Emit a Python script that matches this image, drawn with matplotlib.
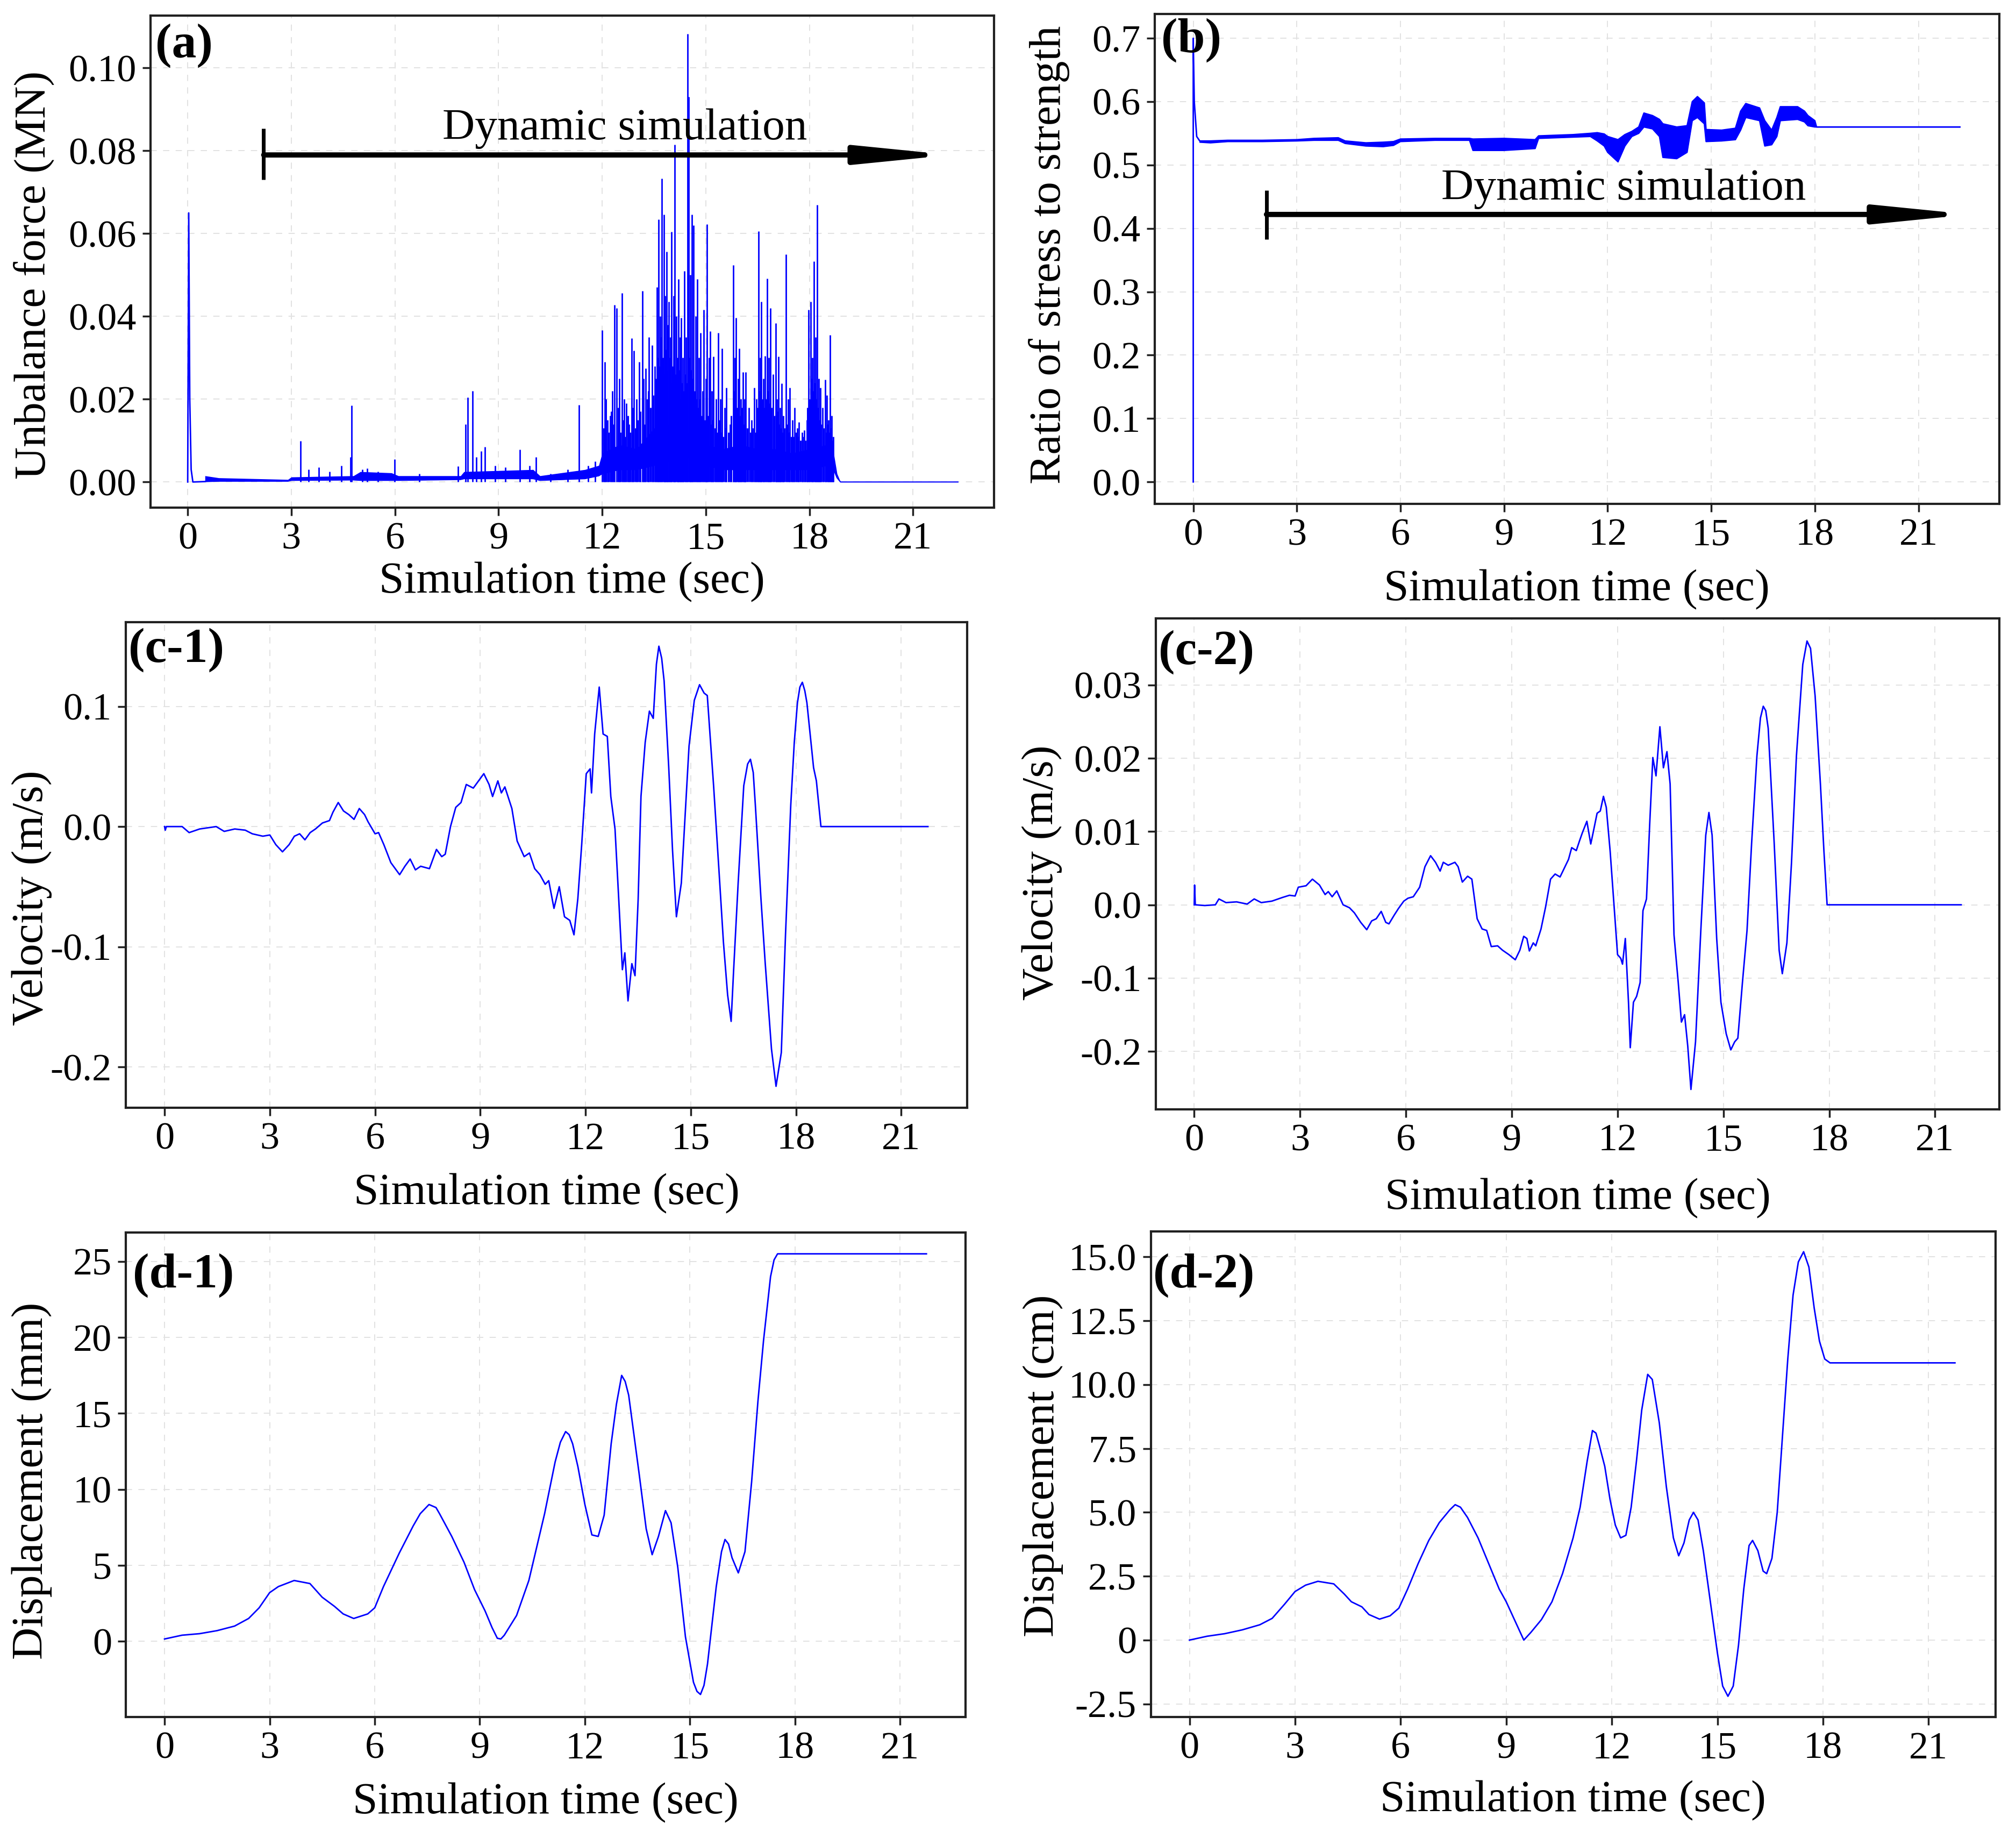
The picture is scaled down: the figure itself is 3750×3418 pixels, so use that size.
import numpy as np
import matplotlib
matplotlib.use('Agg')
import matplotlib.pyplot as plt

plt.rcParams['font.family'] = ['Liberation Serif', 'DejaVu Serif']

# (a) unbalance force (MN): baseline, dense band envelope, spikes
force_t = [0, 0.03, 0.06, 0.1, 0.15, 0.5]
force_v = [0.0, 0.065, 0.02, 0.003, 0.0, 0.0001]
band_t = [0.5, 0.9, 2.9, 3.0, 4.8, 5.0, 5.9, 6.1, 7.9, 8.0, 10.0, 10.2, 11.5,
          11.9, 12.0, 12.5, 13.0, 13.5, 14.0, 14.5, 15.0, 15.5, 16.0, 16.5,
          17.0, 17.5, 18.0, 18.5, 18.7, 18.8, 18.9, 22.3]
band_lo = [0.0001, 0.0002, 0.0002, 0.0004, 0.0005, 0.0004, 0.0004, 0.0004,
           0.0006, 0.0008, 0.0008, 0.0004, 0.0008, 0.0015, 0.002, 0.003, 0.003,
           0.004, 0.005, 0.006, 0.004, 0.003, 0.003, 0.003, 0.003, 0.003, 0.003,
           0.004, 0.003, 0.001, 0.0, 0.0]
band_hi = [0.0015, 0.001, 0.0006, 0.0012, 0.0015, 0.0025, 0.0022, 0.0015,
           0.0015, 0.0025, 0.003, 0.0015, 0.003, 0.004, 0.007, 0.009, 0.008,
           0.013, 0.014, 0.012, 0.009, 0.008, 0.009, 0.008, 0.008, 0.007, 0.008,
           0.009, 0.007, 0.002, 0.0, 0.0]
spike_t = [3.26, 3.5, 3.8, 4.1, 4.45, 4.72, 4.75, 5.05, 5.2, 5.5, 5.99, 6.7,
           7.83, 8.05, 8.1, 8.24, 8.35, 8.49, 8.61, 8.9, 9.2, 9.61, 9.9, 10.08,
           10.5, 11.0, 11.33, 11.6, 11.8,
           12.0, 12.08, 12.15, 12.23, 12.3, 12.36, 12.42, 12.5, 12.57, 12.63,
           12.7, 12.78, 12.85, 12.92, 13.0, 13.07, 13.16, 13.2, 13.26, 13.3,
           13.35, 13.45, 13.52, 13.58, 13.63, 13.68, 13.73, 13.78, 13.82, 13.86,
           13.9, 13.93, 13.97, 14.01, 14.06, 14.1, 14.14, 14.21, 14.25, 14.29,
           14.33, 14.38, 14.43, 14.48, 14.51, 14.55, 14.59, 14.64, 14.7, 14.76,
           14.8, 14.85, 14.94, 15.0, 15.04, 15.1, 15.13, 15.18, 15.22, 15.3,
           15.36, 15.42, 15.47, 15.55, 15.6, 15.7, 15.79, 15.84, 15.88, 15.93,
           15.97, 16.02, 16.07, 16.12, 16.16, 16.25, 16.32, 16.4, 16.46, 16.52,
           16.57, 16.61, 16.66, 16.72, 16.78, 16.82, 16.87, 16.95, 17.02, 17.06,
           17.1, 17.15, 17.19, 17.25, 17.32, 17.38, 17.43, 17.5, 17.57, 17.65,
           17.7, 17.78, 17.85, 17.92, 17.98, 18.03, 18.08, 18.13, 18.18, 18.22,
           18.27, 18.31, 18.38, 18.45, 18.5, 18.55, 18.6, 18.65, 18.69]
spike_h = [0.0099, 0.003, 0.0035, 0.0025, 0.004, 0.006, 0.0185, 0.003, 0.0033,
           0.0025, 0.0055, 0.002, 0.0038, 0.014, 0.0205, 0.022, 0.006, 0.0075,
           0.0085, 0.004, 0.0035, 0.0078, 0.004, 0.006, 0.002, 0.003, 0.0186,
           0.004, 0.005,
           0.0367, 0.029, 0.015, 0.016, 0.022, 0.0428, 0.042, 0.025, 0.0456,
           0.02, 0.019, 0.014, 0.0347, 0.0317, 0.02, 0.029, 0.0461, 0.025,
           0.0275, 0.02, 0.035, 0.033, 0.028, 0.047, 0.0634, 0.04, 0.0733,
           0.0646, 0.045, 0.0557, 0.038, 0.0435, 0.035, 0.0604, 0.045, 0.0815,
           0.04, 0.049, 0.035, 0.0397, 0.03, 0.051, 0.035, 0.1083, 0.093, 0.05,
           0.0646, 0.062, 0.04, 0.049, 0.03, 0.036, 0.0416, 0.025, 0.0623, 0.03,
           0.0364, 0.022, 0.0303, 0.02, 0.036, 0.02, 0.0322, 0.018, 0.0228,
           0.014, 0.0524, 0.03, 0.0397, 0.025, 0.0322, 0.02, 0.0266, 0.02,
           0.0266, 0.018, 0.015, 0.0228, 0.02, 0.0606, 0.03, 0.0435, 0.025,
           0.0305, 0.0491, 0.03, 0.042, 0.026, 0.0383, 0.02, 0.0303, 0.018,
           0.0238, 0.016, 0.055, 0.02, 0.0228, 0.015, 0.018, 0.013, 0.0144,
           0.012, 0.0125, 0.015, 0.0416, 0.0435, 0.03, 0.0533, 0.035, 0.067,
           0.025, 0.0228, 0.018, 0.0247, 0.021, 0.015, 0.0355, 0.016, 0.011]
minor_t = [12.04, 12.11, 12.19, 12.27, 12.33, 12.46, 12.53, 12.6, 12.67, 12.74,
           12.81, 12.88, 12.96, 13.03, 13.11, 13.23, 13.33, 13.4, 13.48, 13.55,
           13.61, 13.66, 13.71, 13.76, 13.8, 13.84, 13.88, 13.95, 13.99, 14.03,
           14.08, 14.12, 14.17, 14.19, 14.23, 14.27, 14.31, 14.35, 14.41, 14.46,
           14.53, 14.57, 14.62, 14.67, 14.73, 14.78, 14.83, 14.88, 14.91, 14.97,
           15.02, 15.07, 15.15, 15.2, 15.26, 15.33, 15.39, 15.45, 15.5, 15.58,
           15.65, 15.74, 15.81, 15.86, 15.91, 15.95, 16.0, 16.05, 16.1, 16.14,
           16.2, 16.29, 16.36, 16.43, 16.49, 16.55, 16.59, 16.64, 16.69, 16.75,
           16.8, 16.85, 16.9, 16.98, 17.04, 17.08, 17.13, 17.17, 17.22, 17.28,
           17.35, 17.41, 17.47, 17.54, 17.61, 17.68, 17.74, 17.81, 17.88, 17.95,
           18.0, 18.06, 18.1, 18.16, 18.2, 18.25, 18.29, 18.34, 18.41, 18.48,
           18.53, 18.58, 18.63, 18.67]
minor_h = [0.013, 0.02, 0.012, 0.017, 0.014, 0.018, 0.012, 0.015, 0.011, 0.016,
           0.012, 0.018, 0.013, 0.015, 0.017, 0.014, 0.022, 0.018, 0.021, 0.025,
           0.03, 0.028, 0.035, 0.03, 0.026, 0.032, 0.027, 0.03, 0.024, 0.028,
           0.033, 0.026, 0.03, 0.022, 0.027, 0.02, 0.024, 0.022, 0.026, 0.024,
           0.03, 0.027, 0.025, 0.022, 0.02, 0.018, 0.02, 0.016, 0.022, 0.015,
           0.018, 0.016, 0.014, 0.015, 0.013, 0.012, 0.015, 0.012, 0.011, 0.013,
           0.012, 0.016, 0.022, 0.02, 0.018, 0.02, 0.016, 0.018, 0.014, 0.016,
           0.013, 0.012, 0.013, 0.012, 0.018, 0.022, 0.02, 0.02, 0.018, 0.02,
           0.022, 0.019, 0.018, 0.016, 0.015, 0.017, 0.014, 0.013, 0.012, 0.013,
           0.014, 0.012, 0.011, 0.011, 0.012, 0.011, 0.01, 0.011, 0.01, 0.018,
           0.02, 0.025, 0.022, 0.024, 0.02, 0.018, 0.015, 0.014, 0.013, 0.012,
           0.014, 0.012, 0.013, 0.01]

# (b) ratio of stress to strength: start transient and noise envelope
ratio_init_t = [0, 0.0, 0.03, 0.1, 0.2]
ratio_init_v = [0.0, 0.70, 0.60, 0.545, 0.537]
ratio_t = [0.2, 0.5, 1.0, 2.0, 3.0, 3.5, 4.2, 4.4, 5.0, 5.5, 5.8, 6.0, 7.0,
           8.0, 8.1, 9.0, 9.9, 10.0, 11.0, 11.5, 11.7, 11.9, 12.0, 12.3, 12.5,
           12.7, 12.9, 13.05, 13.3, 13.5, 13.6, 14.0, 14.3, 14.45, 14.6, 14.8,
           14.85, 15.3, 15.7, 15.85, 16.0, 16.4, 16.55, 16.75, 16.9, 17.0, 17.5,
           17.7, 17.8, 18.0, 18.05, 22.2]
ratio_lo = [0.536, 0.535, 0.537, 0.537, 0.538, 0.539, 0.539, 0.534, 0.530,
            0.529, 0.531, 0.537, 0.539, 0.539, 0.523, 0.523, 0.526, 0.542,
            0.544, 0.545, 0.538, 0.530, 0.520, 0.505, 0.530, 0.545, 0.550,
            0.560, 0.557, 0.545, 0.512, 0.510, 0.520, 0.570, 0.575, 0.565,
            0.537, 0.538, 0.540, 0.555, 0.575, 0.570, 0.530, 0.532, 0.545,
            0.570, 0.572, 0.568, 0.562, 0.560, 0.560, 0.560]
ratio_hi = [0.538, 0.538, 0.539, 0.539, 0.540, 0.542, 0.543, 0.538, 0.535,
            0.536, 0.537, 0.541, 0.542, 0.542, 0.541, 0.542, 0.540, 0.546,
            0.548, 0.550, 0.551, 0.549, 0.545, 0.540, 0.548, 0.553, 0.560,
            0.582, 0.578, 0.572, 0.565, 0.560, 0.562, 0.600, 0.608, 0.598,
            0.556, 0.555, 0.558, 0.585, 0.597, 0.590, 0.570, 0.555, 0.575,
            0.592, 0.592, 0.585, 0.578, 0.570, 0.560, 0.560]

# (c-1) velocity (m/s)
vel1_t = [0, 0.02, 0.05, 0.5, 0.7, 1.0, 1.47, 1.7, 2.0, 2.3, 2.5, 2.8, 3.0,
          3.17, 3.36, 3.55, 3.7, 3.85, 4.0, 4.15, 4.3, 4.5, 4.7, 4.8, 4.95,
          5.1, 5.25, 5.4, 5.55, 5.7, 5.8, 6.0, 6.1, 6.25, 6.45, 6.7, 6.85, 7.0,
          7.15, 7.3, 7.55, 7.75, 7.9, 8.0, 8.15, 8.3, 8.45, 8.6, 8.8, 8.95,
          9.1, 9.25, 9.35, 9.5, 9.6, 9.7, 9.9, 10.05, 10.25, 10.4, 10.55,
          10.7, 10.85, 10.95, 11.1, 11.25, 11.4, 11.55, 11.67, 11.78, 11.89,
          12.02, 12.13, 12.17, 12.26, 12.39, 12.5, 12.62, 12.72, 12.84, 12.94,
          13.05, 13.12, 13.21, 13.32, 13.41, 13.5, 13.58, 13.7, 13.82, 13.93,
          14.02, 14.09, 14.17, 14.24, 14.37, 14.48, 14.59, 14.73, 14.95, 15.1,
          15.25, 15.38, 15.47, 15.65, 15.8, 15.93, 16.05, 16.15, 16.22, 16.35,
          16.51, 16.62, 16.7, 16.78, 16.84, 17.0, 17.12, 17.3, 17.43, 17.58,
          17.7, 17.85, 17.95, 18.04, 18.11, 18.18, 18.25, 18.31, 18.5, 18.58,
          18.71, 21.76]
vel1_v = [0.0, -0.003, 0.0, 0.0, -0.005, -0.002, 0.0, -0.004, -0.002, -0.003,
          -0.006, -0.008, -0.007, -0.015, -0.021, -0.015, -0.008, -0.006,
          -0.011, -0.005, -0.002, 0.003, 0.005, 0.012, 0.020, 0.013, 0.010,
          0.006, 0.015, 0.010, 0.004, -0.006, -0.005, -0.015, -0.030, -0.040,
          -0.033, -0.027, -0.036, -0.033, -0.035, -0.019, -0.025, -0.023, 0.0,
          0.016, 0.020, 0.035, 0.032, 0.038, 0.044, 0.035, 0.025, 0.038, 0.028,
          0.033, 0.015, -0.012, -0.025, -0.022, -0.035, -0.040, -0.048, -0.045,
          -0.068, -0.050, -0.075, -0.078, -0.090, -0.060, -0.015, 0.044, 0.048,
          0.028, 0.077, 0.116, 0.077, 0.075, 0.025, -0.002, -0.057, -0.119,
          -0.105, -0.145, -0.114, -0.124, -0.060, 0.025, 0.070, 0.096, 0.090,
          0.135, 0.150, 0.140, 0.121, 0.050, -0.020, -0.075, -0.047, 0.067,
          0.105, 0.118, 0.111, 0.109, 0.034, -0.035, -0.096, -0.140, -0.162,
          -0.120, -0.047, 0.034, 0.052, 0.056, 0.045, 0.018, -0.060, -0.113,
          -0.185, -0.216, -0.188, -0.090, 0.018, 0.070, 0.103, 0.116, 0.120,
          0.113, 0.103, 0.049, 0.038, 0.0, 0.0]

# (c-2) velocity (m/s)
vel2_t = [0, 0.01, 0.03, 0.3, 0.6, 0.7, 0.9, 1.2, 1.5, 1.7, 1.9, 2.2, 2.5, 2.7,
          2.86, 2.95, 3.17, 3.35, 3.55, 3.71, 3.8, 3.91, 4.04, 4.22, 4.4, 4.54,
          4.72, 4.89, 5.03, 5.16, 5.3, 5.43, 5.52, 5.67, 5.79, 5.94, 6.06, 6.21,
          6.39, 6.54, 6.7, 6.84, 6.97, 7.06, 7.2, 7.39, 7.48, 7.6, 7.75, 7.87,
          8.02, 8.16, 8.29, 8.42, 8.6, 8.74, 8.92, 9.1, 9.23, 9.34, 9.43, 9.5,
          9.61, 9.68, 9.83, 9.96, 10.1, 10.23, 10.37, 10.52, 10.61, 10.7, 10.83,
          10.92, 11.0, 11.13, 11.24, 11.31, 11.42, 11.51, 11.6, 11.68, 11.79,
          11.91, 12.0, 12.09, 12.14, 12.22, 12.31, 12.36, 12.45, 12.54, 12.64,
          12.72, 12.82, 12.91, 13.0, 13.09, 13.2, 13.3, 13.4, 13.49, 13.6,
          13.72, 13.81, 13.9, 13.99, 14.08, 14.21, 14.36, 14.5, 14.59, 14.68,
          14.81, 14.93, 15.08, 15.21, 15.32, 15.41, 15.54, 15.67, 15.8, 15.95,
          16.05, 16.13, 16.2, 16.27, 16.44, 16.58, 16.67, 16.8, 16.93, 17.07,
          17.25, 17.37, 17.47, 17.6, 17.75, 17.85, 17.94, 21.74]
vel2_v = [0.0, 0.0027, 0.0, -0.0001, 0.0, 0.0008, 0.0003, 0.0004, 0.0001,
          0.0008, 0.0003, 0.0005, 0.001, 0.0013, 0.0012, 0.0024, 0.0026, 0.0035,
          0.0027, 0.0014, 0.0018, 0.0011, 0.0019, 0.0, -0.0004, -0.0011,
          -0.0024, -0.0034, -0.0022, -0.0019, -0.0009, -0.0024, -0.0026,
          -0.0014, -0.0005, 0.0005, 0.0009, 0.0011, 0.0024, 0.0052, 0.0067,
          0.0058, 0.0046, 0.0058, 0.0054, 0.0058, 0.0052, 0.0031, 0.0039,
          0.0035, -0.0019, -0.0033, -0.0035, -0.0057, -0.0056, -0.0062, -0.0068,
          -0.0075, -0.0062, -0.0043, -0.0046, -0.0063, -0.0052, -0.0056,
          -0.0033, -0.0003, 0.0035, 0.0042, 0.0038, 0.0053, 0.0062, 0.0078,
          0.0074, 0.0087, 0.0098, 0.0114, 0.0083, 0.0099, 0.0125, 0.0128,
          0.0148, 0.0133, 0.0073, -0.0008, -0.0068, -0.0073, -0.0081, -0.0046,
          -0.0133, -0.0195, -0.0133, -0.0125, -0.0106, -0.0008, 0.0008, 0.0109,
          0.0201, 0.0176, 0.0243, 0.0187, 0.0209, 0.0165, -0.0041, -0.0106,
          -0.016, -0.015, -0.0193, -0.0252, -0.0187, -0.0035, 0.0095, 0.0126,
          0.0095, -0.0046, -0.0133, -0.0176, -0.0198, -0.0187, -0.0182, -0.0106,
          -0.0035, 0.0084, 0.0203, 0.0255, 0.0271, 0.0265, 0.0241, 0.0084,
          -0.0062, -0.0094, -0.0052, 0.0057, 0.0203, 0.0328, 0.036, 0.035,
          0.0285, 0.0165, 0.0073, 0.0, 0.0]

# (d-1) displacement (mm)
disp1_t = [0, 0.5, 1.0, 1.5, 2.0, 2.4, 2.7, 3.0, 3.25, 3.7, 4.15, 4.5, 4.85,
           5.1, 5.4, 5.8, 6.0, 6.25, 6.7, 7.1, 7.3, 7.55, 7.75, 7.85, 8.2,
           8.55, 8.85, 9.15, 9.35, 9.5, 9.6, 9.7, 10.05, 10.4, 10.85, 11.15,
           11.3, 11.45, 11.55, 11.65, 11.8, 12.0, 12.2, 12.38, 12.55, 12.75,
           12.9, 13.05, 13.15, 13.25, 13.55, 13.75, 13.92, 14.1, 14.3, 14.46,
           14.65, 14.87, 15.1, 15.2, 15.3, 15.4, 15.5, 15.75, 15.9, 16.0, 16.1,
           16.2, 16.38, 16.57, 16.76, 16.94, 17.1, 17.3, 17.4, 17.5, 21.75]
disp1_v = [0.15, 0.4, 0.5, 0.7, 1.0, 1.5, 2.2, 3.2, 3.6, 4.0, 3.8, 2.9, 2.3,
           1.8, 1.5, 1.8, 2.2, 3.6, 5.8, 7.6, 8.4, 9.0, 8.8, 8.4, 6.9, 5.2,
           3.4, 2.0, 0.9, 0.2, 0.15, 0.4, 1.7, 4.0, 8.4, 11.8, 13.1, 13.8, 13.6,
           13.0, 11.5, 9.0, 7.0, 6.9, 8.3, 13.0, 15.6, 17.5, 17.1, 16.2, 11.0,
           7.4, 5.7, 6.9, 8.6, 7.8, 4.9, 0.3, -2.7, -3.3, -3.5, -2.9, -1.5, 3.6,
           5.9, 6.7, 6.4, 5.5, 4.5, 5.9, 10.5, 15.8, 19.8, 24.0, 25.1, 25.5,
           25.5]

# (d-2) displacement (cm)
disp2_t = [0, 0.5, 1.0, 1.5, 2.0, 2.35, 2.7, 3.0, 3.3, 3.65, 4.1, 4.4, 4.6,
           4.9, 5.1, 5.4, 5.7, 5.95, 6.2, 6.5, 6.8, 7.1, 7.4, 7.55, 7.7, 7.9,
           8.2, 8.5, 8.8, 9.0, 9.3, 9.5, 9.7, 10.0, 10.3, 10.6, 10.9, 11.1,
           11.3, 11.45, 11.55, 11.65, 11.8, 11.95, 12.1, 12.25, 12.4, 12.55,
           12.7, 12.85, 13.02, 13.15, 13.35, 13.55, 13.75, 13.9, 14.05, 14.2,
           14.32, 14.45, 14.6, 14.8, 15.0, 15.15, 15.3, 15.45, 15.6, 15.75, 15.9,
           16.0, 16.15, 16.3, 16.4, 16.55, 16.7, 16.85, 17.0, 17.15, 17.3,
           17.45, 17.6, 17.75, 17.9, 18.05, 18.2, 21.75]
disp2_v = [0.0, 0.15, 0.25, 0.4, 0.6, 0.85, 1.4, 1.9, 2.15, 2.3, 2.2, 1.8, 1.5,
           1.3, 1.0, 0.82, 0.95, 1.25, 2.0, 3.0, 3.9, 4.6, 5.1, 5.3, 5.2, 4.8,
           4.0, 3.0, 2.0, 1.5, 0.6, 0.0, 0.3, 0.8, 1.5, 2.6, 4.0, 5.2, 7.0, 8.2,
           8.1, 7.6, 6.8, 5.5, 4.5, 4.0, 4.1, 5.2, 7.0, 9.0, 10.4, 10.2, 8.5,
           6.0, 4.0, 3.3, 3.8, 4.7, 5.0, 4.7, 3.5, 1.5, -0.5, -1.8, -2.2, -1.8,
           -0.2, 2.0, 3.7, 3.9, 3.5, 2.7, 2.6, 3.2, 5.0, 8.0, 11.0, 13.5, 14.8,
           15.2, 14.6, 13.0, 11.7, 11.0, 10.85, 10.85]

x_ticks = [0, 3, 6, 9, 12, 15, 18, 21]
yticks_a = [0.0, 0.02, 0.04, 0.06, 0.08, 0.10]
ylabels_a = ['0.00', '0.02', '0.04', '0.06', '0.08', '0.10']
yticks_b = [0.0, 0.1, 0.2, 0.3, 0.4, 0.5, 0.6, 0.7]
ylabels_b = ['0.0', '0.1', '0.2', '0.3', '0.4', '0.5', '0.6', '0.7']
yticks_c1 = [-0.2, -0.1, 0.0, 0.1]
ylabels_c1 = ['-0.2', '-0.1', '0.0', '0.1']
yticks_c2 = [-0.02, -0.01, 0.0, 0.01, 0.02, 0.03]
ylabels_c2 = ['-0.2', '-0.1', '0.0', '0.01', '0.02', '0.03']
yticks_d1 = [0, 5, 10, 15, 20, 25]
ylabels_d1 = ['0', '5', '10', '15', '20', '25']
yticks_d2 = [-2.5, 0, 2.5, 5, 7.5, 10, 12.5, 15]
ylabels_d2 = ['-2.5', '0', '2.5', '5.0', '7.5', '10.0', '12.5', '15.0']

BLUE = '#0000ff'


def style(ax, xlim, ylim, yticks, ylabels, ylabel, ylab_xy, xlab_y, tag, tag_xy):
    ax.set_xlim(*xlim)
    ax.set_ylim(*ylim)
    ax.set_xticks(x_ticks)
    ax.set_yticks(yticks)
    ax.set_yticklabels(ylabels)
    ax.grid(True, color='#e2e2e2', ls=(0, (6, 6)), lw=1.4)
    ax.set_axisbelow(True)
    for s in ax.spines.values():
        s.set_linewidth(3)
        s.set_color('#202020')
    ax.tick_params(direction='out', length=11, width=2.5, labelsize=52, pad=8,
                   color='#202020')
    ax.set_xlabel('Simulation time (sec)', fontsize=60)
    ax.xaxis.set_label_coords(0.5, xlab_y)
    ax.set_ylabel(ylabel, fontsize=60)
    ax.yaxis.set_label_coords(*ylab_xy)
    ax.text(tag_xy[0], tag_xy[1], tag, transform=ax.transAxes, fontsize=66,
            fontweight='bold', va='top', ha='left')


def dyn_arrow(ax, x0, x1, y, bar_lo, bar_hi, tx, ty):
    ax.annotate('', xy=(x1, y), xytext=(x0, y),
                arrowprops=dict(arrowstyle='-|>,head_length=1.0,head_width=0.1',
                                mutation_scale=100, lw=7, color='black',
                                shrinkA=0, shrinkB=0))
    ax.plot([x0, x0], [bar_lo, bar_hi], color='black', lw=5, solid_capstyle='butt')
    ax.text(tx, ty, 'Dynamic simulation', fontsize=60, ha='center', va='center')


fig = plt.figure(figsize=(37.5, 34.18), dpi=100)

# (a)
ax = fig.add_axes([0.0746, 0.7238, 0.4184, 0.2678])
ax.fill_between(band_t, band_lo, band_hi, color=BLUE, lw=0)
ax.vlines(minor_t, 0.0, minor_h, color=BLUE, lw=2.2)
ax.vlines(spike_t, 0.0, spike_h, color=BLUE, lw=2.0)
ax.plot(force_t, force_v, color=BLUE, lw=2)
ax.plot(band_t, band_lo, color=BLUE, lw=1.5)
dyn_arrow(ax, 2.2, 22.1, 0.079, 0.073, 0.0854, 12.66, 0.0854)
style(ax, (-1.08, 23.34), (-0.0062, 0.1127), yticks_a, ylabels_a,
      'Unbalance force (MN)', (-0.114, 0.473), -0.110, '(a)', (0.006, 0.984))

# (b)
ax = fig.add_axes([0.5727, 0.7259, 0.4190, 0.2664])
ax.fill_between(ratio_t, ratio_lo, ratio_hi, color=BLUE, lw=0)
ax.plot(ratio_t, ratio_lo, color=BLUE, lw=1.8)
ax.plot(ratio_t, ratio_hi, color=BLUE, lw=1.8)
ax.plot(ratio_init_t, ratio_init_v, color=BLUE, lw=2)
dyn_arrow(ax, 2.12, 22.5, 0.422, 0.383, 0.4604, 12.47, 0.4625)
style(ax, (-1.12, 23.34), (-0.0345, 0.738), yticks_b, ylabels_b,
      'Ratio of stress to strength', (-0.1005, 0.509), -0.134, '(b)', (0.008, 0.992))

# (c-1)
ax = fig.add_axes([0.0625, 0.3972, 0.4171, 0.2643])
ax.plot(vel1_t, vel1_v, color=BLUE, lw=2)
style(ax, (-1.10, 22.87), (-0.234, 0.170), yticks_c1, ylabels_c1,
      'Velocity (m/s)', (-0.088, 0.4325), -0.135, '(c-1)', (0.003, 0.989))

# (c-2)
ax = fig.add_axes([0.5733, 0.3965, 0.4184, 0.2671])
ax.plot(vel2_t, vel2_v, color=BLUE, lw=2)
style(ax, (-1.09, 22.82), (-0.0279, 0.0391), yticks_c2, ylabels_c2,
      'Velocity (m/s)', (-0.111, 0.482), -0.140, '(c-2)', (0.003, 0.977))

# (d-1)
ax = fig.add_axes([0.0625, 0.0657, 0.4165, 0.2637])
ax.plot(disp1_t, disp1_v, color=BLUE, lw=2)
style(ax, (-1.10, 22.87), (-5.0, 26.9), yticks_d1, ylabels_d1,
      'Displacement (mm)', (-0.088, 0.488), -0.135, '(d-1)', (0.008, 0.958))

# (d-2)
ax = fig.add_axes([0.5708, 0.0657, 0.4190, 0.2644])
ax.plot(disp2_t, disp2_v, color=BLUE, lw=2)
style(ax, (-1.10, 22.9), (-3.02, 16.0), yticks_d2, ylabels_d2,
      'Displacement (cm)', (-0.1035, 0.518), -0.130, '(d-2)', (0.003, 0.955))

fig.savefig('out.png', dpi=100)
